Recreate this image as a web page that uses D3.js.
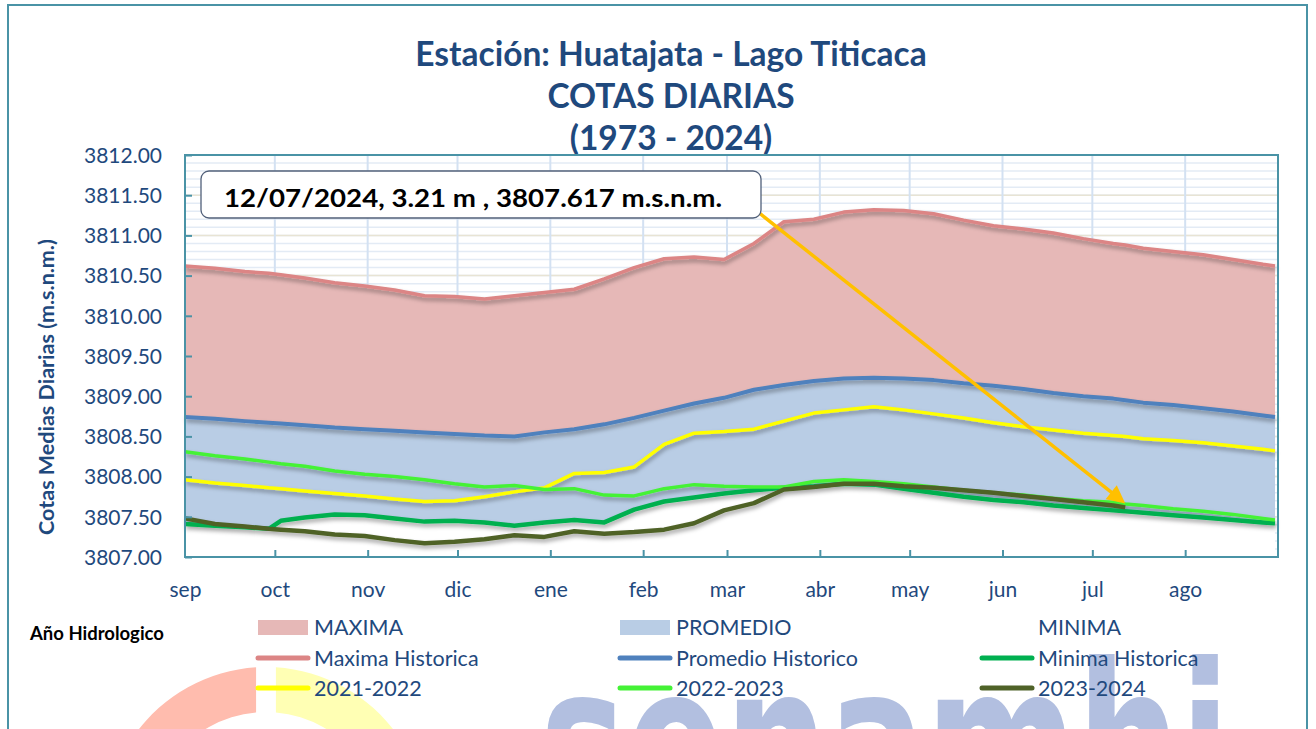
<!DOCTYPE html>
<html>
<head>
<meta charset="utf-8">
<script src="https://cdn.jsdelivr.net/npm/d3@7"></script>
<style>
  html, body { margin: 0; padding: 0; background: #fff; }
  svg { display: block; font-family: Lato, "Open Sans", sans-serif; }
</style>
</head>
<body>
<div id="chart"></div>
<script>
// dias desde el 1 de septiembre (año hidrologico)
var days = [0, 10, 20, 28, 32, 40, 50, 60, 70, 80, 90, 100, 110, 120, 130, 140, 150, 160, 170, 180,
            190, 200, 210, 220, 230, 240, 250, 260, 270, 280, 290, 300, 310, 314, 320, 330, 340, 350, 360, 364];

var maxima = [3810.62, 3810.59, 3810.55, 3810.53, 3810.51, 3810.47, 3810.41, 3810.37, 3810.32, 3810.25,
              3810.24, 3810.21, 3810.25, 3810.29, 3810.33, 3810.46, 3810.60, 3810.71, 3810.73, 3810.70,
              3810.90, 3811.17, 3811.20, 3811.29, 3811.32, 3811.31, 3811.27, 3811.19, 3811.12, 3811.08,
              3811.03, 3810.96, 3810.90, 3810.88, 3810.84, 3810.80, 3810.76, 3810.70, 3810.64, 3810.62];

var promedio = [3808.74, 3808.72, 3808.69, 3808.67, 3808.66, 3808.64, 3808.61, 3808.59, 3808.57, 3808.55,
                3808.53, 3808.51, 3808.50, 3808.55, 3808.59, 3808.65, 3808.73, 3808.82, 3808.91, 3808.98,
                3809.08, 3809.14, 3809.19, 3809.22, 3809.23, 3809.22, 3809.20, 3809.16, 3809.13, 3809.09,
                3809.04, 3809.00, 3808.97, 3808.95, 3808.92, 3808.89, 3808.85, 3808.81, 3808.76, 3808.74];

var minima = [3807.41, 3807.39, 3807.37, 3807.35, 3807.45, 3807.49, 3807.53, 3807.52, 3807.48, 3807.44,
              3807.45, 3807.43, 3807.39, 3807.43, 3807.46, 3807.43, 3807.59, 3807.69, 3807.74, 3807.79,
              3807.83, 3807.86, 3807.88, 3807.91, 3807.90, 3807.85, 3807.80, 3807.75, 3807.71, 3807.68,
              3807.64, 3807.61, 3807.58, 3807.57, 3807.55, 3807.52, 3807.49, 3807.46, 3807.43, 3807.42];

var y2021 = [3807.96, 3807.92, 3807.89, 3807.86, 3807.85, 3807.82, 3807.79, 3807.76, 3807.72, 3807.69,
             3807.70, 3807.75, 3807.81, 3807.86, 3808.04, 3808.05, 3808.12, 3808.40, 3808.54, 3808.56,
             3808.59, 3808.69, 3808.79, 3808.83, 3808.87, 3808.83, 3808.78, 3808.73, 3808.67, 3808.62,
             3808.58, 3808.54, 3808.51, 3808.50, 3808.47, 3808.45, 3808.42, 3808.38, 3808.34, 3808.32];

var y2022 = [3808.31, 3808.26, 3808.22, 3808.18, 3808.16, 3808.13, 3808.07, 3808.03, 3808.00, 3807.96,
             3807.91, 3807.87, 3807.89, 3807.84, 3807.85, 3807.77, 3807.76, 3807.85, 3807.90, 3807.88,
             3807.87, 3807.87, 3807.94, 3807.96, 3807.94, 3807.91, 3807.87, 3807.83, 3807.80, 3807.77,
             3807.73, 3807.70, 3807.68, 3807.66, 3807.64, 3807.60, 3807.57, 3807.53, 3807.48, 3807.46];

var y2023 = [3807.48, 3807.41, 3807.38, 3807.35, 3807.34, 3807.32, 3807.28, 3807.26, 3807.21, 3807.17,
             3807.19, 3807.22, 3807.27, 3807.25, 3807.32, 3807.29, 3807.31, 3807.34, 3807.42, 3807.58,
             3807.67, 3807.84, 3807.87, 3807.91, 3807.91, 3807.88, 3807.86, 3807.83, 3807.80, 3807.76,
             3807.72, 3807.68, 3807.64, 3807.617, null, null, null, null, null, null];

var monthStarts = [0, 30, 61, 91, 122, 153, 181, 212, 242, 273, 303, 334];
var monthLabels = ['sep', 'oct', 'nov', 'dic', 'ene', 'feb', 'mar', 'abr', 'may', 'jun', 'jul', 'ago'];
var yTicks = [3807, 3807.5, 3808, 3808.5, 3809, 3809.5, 3810, 3810.5, 3811, 3811.5, 3812];

var titleLines = ['Estación: Huatajata - Lago Titicaca', 'COTAS DIARIAS', '(1973 - 2024)'];
var noteText = '12/07/2024, 3.21 m , 3807.617 m.s.n.m.';
var noteDay = 314, noteValue = 3807.617;

var W = 1316, H = 729;
var m = {left: 185, right: 1278, top: 155, bottom: 557};
var navy = '#1f497d', teal = '#4a93a6';

var svg = d3.select('#chart').append('svg')
    .attr('width', W).attr('height', H);

var defs = svg.append('defs');
var f = defs.append('filter').attr('id', 'shadow')
    .attr('x', '-5%').attr('y', '-20%').attr('width', '110%').attr('height', '160%');
f.append('feDropShadow').attr('dx', 1).attr('dy', 3).attr('stdDeviation', 2)
    .attr('flood-color', '#000').attr('flood-opacity', 0.35);
defs.append('clipPath').attr('id', 'page').append('rect')
    .attr('x', 9).attr('y', 6).attr('width', 1297).attr('height', H);

var x = d3.scaleLinear().domain([0, 365]).range([m.left, m.right]);
var y = d3.scaleLinear().domain([3807, 3812]).range([m.bottom, m.top]);

// --- marca de agua (logo) ---
var wm = svg.append('g').attr('clip-path', 'url(#page)');
var arc = d3.arc().innerRadius(116).outerRadius(161).padAngle(0.1);
var logoC = wm.append('g').attr('transform', 'translate(266,828)');
logoC.append('path').attr('d', arc({startAngle: -1.9, endAngle: 0})).attr('fill', '#ffbcae');
logoC.append('path').attr('d', arc({startAngle: 0, endAngle: 1.9})).attr('fill', '#ffffb4');
wm.append('text')
    .attr('x', 540).attr('y', 818)
    .attr('textLength', 690).attr('lengthAdjust', 'spacingAndGlyphs')
    .style('font-family', '"DejaVu Sans", sans-serif')
    .style('font-weight', 'bold').style('font-size', '215px')
    .attr('fill', '#b2bfe0')
    .text('senamhi');

// --- marco exterior ---
svg.append('rect').attr('x', 8).attr('y', 5).attr('width', 1299).attr('height', H + 10)
    .attr('fill', 'none').attr('stroke', teal).attr('stroke-width', 2);

// --- titulo ---
svg.append('g').selectAll('text').data(titleLines).join('text')
    .attr('x', 671).attr('y', function(d, i) { return 66 + i * 42; })
    .attr('text-anchor', 'middle')
    .attr('fill', navy).style('font-weight', 'bold').style('font-size', '33.5px')
    .text(function(d) { return d; });

// --- rejilla ---
var grid = svg.append('g');
var minor = d3.range(3807, 3812.001, 0.1);
grid.selectAll('.minor').data(minor).join('line')
    .attr('x1', m.left).attr('x2', m.right)
    .attr('y1', function(d) { return y(d); }).attr('y2', function(d) { return y(d); })
    .attr('stroke', '#e3ebf5').attr('stroke-width', 1.5);
grid.selectAll('.major').data(yTicks).join('line')
    .attr('x1', m.left).attr('x2', m.right)
    .attr('y1', function(d) { return y(d); }).attr('y2', function(d) { return y(d); })
    .attr('stroke', '#e8e4d4').attr('stroke-width', 1.5);
grid.selectAll('.vert').data(monthStarts.slice(1)).join('line')
    .attr('x1', function(d) { return x(d); }).attr('x2', function(d) { return x(d); })
    .attr('y1', m.top).attr('y2', m.bottom)
    .attr('stroke', '#d3e1f2').attr('stroke-width', 2);

// --- areas ---
var rows = days.map(function(d, i) {
    return {d: d, max: maxima[i], prom: promedio[i], min: minima[i],
            a: y2021[i], b: y2022[i], c: y2023[i]};
});
function area(key) {
    return d3.area().x(function(r) { return x(r.d); })
        .y0(y(3807)).y1(function(r) { return y(r[key]); });
}
svg.append('path').datum(rows).attr('d', area('max')).attr('fill', '#e6b8b7');
svg.append('path').datum(rows).attr('d', area('prom')).attr('fill', '#b9cde5');
svg.append('path').datum(rows).attr('d', area('min')).attr('fill', '#ffffff');

// --- lineas ---
var series = [
    {key: 'max', name: 'Maxima Historica', color: '#dc8585', w: 3.5},
    {key: 'prom', name: 'Promedio Historico', color: '#4f81bd', w: 4},
    {key: 'min', name: 'Minima Historica', color: '#00b050', w: 4.5},
    {key: 'a', name: '2021-2022', color: '#ffff00', w: 3.5},
    {key: 'b', name: '2022-2023', color: '#44f236', w: 3.5},
    {key: 'c', name: '2023-2024', color: '#4f6228', w: 4.5}
];
var lines = svg.append('g').attr('filter', 'url(#shadow)');
series.forEach(function(s) {
    var gen = d3.line()
        .defined(function(r) { return r[s.key] != null; })
        .x(function(r) { return x(r.d); })
        .y(function(r) { return y(r[s.key]); });
    lines.append('path').datum(rows).attr('d', gen)
        .attr('fill', 'none').attr('stroke', s.color).attr('stroke-width', s.w)
        .attr('stroke-linejoin', 'round');
});

// --- ejes ---
var xAxis = d3.axisBottom(x).tickValues(monthStarts).tickSizeInner(-7).tickSizeOuter(0)
    .tickFormat(function(d, i) { return monthLabels[i]; });
var gx = svg.append('g').attr('transform', 'translate(0,' + m.bottom + ')').call(xAxis);
var yAxis = d3.axisLeft(y).tickValues(yTicks).tickSizeInner(-7).tickSizeOuter(0)
    .tickFormat(d3.format('.2f'));
var gy = svg.append('g').attr('transform', 'translate(' + m.left + ',0)').call(yAxis);
[gx, gy].forEach(function(g) {
    g.select('.domain').remove();
    g.selectAll('.tick line').attr('stroke', teal).attr('stroke-width', 2);
    g.selectAll('.tick text').attr('fill', navy).style('font-size', '21px')
        .style('font-family', 'Lato, sans-serif');
});
gx.selectAll('.tick text').attr('y', 25).attr('dy', '0.71em');
gy.selectAll('.tick text').attr('x', -23).attr('dy', '0.35em');
gx.select('.tick line').remove();

svg.append('rect').attr('x', m.left).attr('y', m.top)
    .attr('width', m.right - m.left).attr('height', m.bottom - m.top)
    .attr('fill', 'none').attr('stroke', teal).attr('stroke-width', 2);

svg.append('text')
    .attr('transform', 'translate(54,' + ((m.top + m.bottom) / 2 + 31) + ') rotate(-90)')
    .attr('text-anchor', 'middle').attr('fill', navy)
    .style('font-weight', 'bold').style('font-size', '21.5px')
    .text('Cotas Medias Diarias (m.s.n.m.)');

// --- anotacion ---
var box = {x: 201, y: 171, w: 560, h: 47};
var tx = x(noteDay), ty = y(noteValue) - 4;
var sx = box.x + box.w - 3, sy = box.y + box.h - 6;
var ang = Math.atan2(ty - sy, tx - sx);
var head = 18;
svg.append('line')
    .attr('x1', sx).attr('y1', sy)
    .attr('x2', tx - Math.cos(ang) * head * 0.8).attr('y2', ty - Math.sin(ang) * head * 0.8)
    .attr('stroke', '#ffc000').attr('stroke-width', 3.5);
svg.append('path')
    .attr('d', d3.line()([
        [tx, ty],
        [tx - head * Math.cos(ang) + 9 * Math.sin(ang), ty - head * Math.sin(ang) - 9 * Math.cos(ang)],
        [tx - head * Math.cos(ang) - 9 * Math.sin(ang), ty - head * Math.sin(ang) + 9 * Math.cos(ang)]
    ]) + 'Z')
    .attr('fill', '#ffc000');
svg.append('rect').attr('x', box.x).attr('y', box.y).attr('width', box.w).attr('height', box.h)
    .attr('rx', 8).attr('fill', '#fff').attr('stroke', '#51607a').attr('stroke-width', 1.3);
svg.append('text').attr('x', box.x + 23).attr('y', box.y + 36)
    .attr('textLength', 498).attr('lengthAdjust', 'spacingAndGlyphs')
    .attr('fill', '#000').style('font-weight', 'bold').style('font-size', '25px')
    .text(noteText);

// --- leyenda ---
svg.append('text').attr('x', 30).attr('y', 640)
    .attr('fill', '#000').style('font-weight', 'bold').style('font-size', '18.5px')
    .text('Año Hidrologico');

var legendCols = [258, 620, 982];
var legendRows = [627, 658, 688];
var areaItems = [
    {name: 'MAXIMA', fill: '#e6b8b7'},
    {name: 'PROMEDIO', fill: '#b9cde5'},
    {name: 'MINIMA', fill: '#ffffff'}
];
var leg = svg.append('g');
areaItems.forEach(function(a, i) {
    leg.append('rect').attr('x', legendCols[i]).attr('y', legendRows[0] - 7)
        .attr('width', 50).attr('height', 15).attr('fill', a.fill);
    leg.append('text').attr('x', legendCols[i] + 56).attr('y', legendRows[0]).attr('dy', '0.35em')
        .attr('fill', navy).style('font-size', '21.5px').text(a.name);
});
series.forEach(function(s, i) {
    var col = legendCols[i % 3], row = legendRows[1 + Math.floor(i / 3)];
    leg.append('line').attr('x1', col).attr('x2', col + 50).attr('y1', row).attr('y2', row)
        .attr('stroke', s.color).attr('stroke-width', 5).attr('stroke-linecap', 'round');
    leg.append('text').attr('x', col + 56).attr('y', row).attr('dy', '0.35em')
        .attr('fill', navy).style('font-size', '21.5px').text(s.name);
});
</script>
</body>
</html>
